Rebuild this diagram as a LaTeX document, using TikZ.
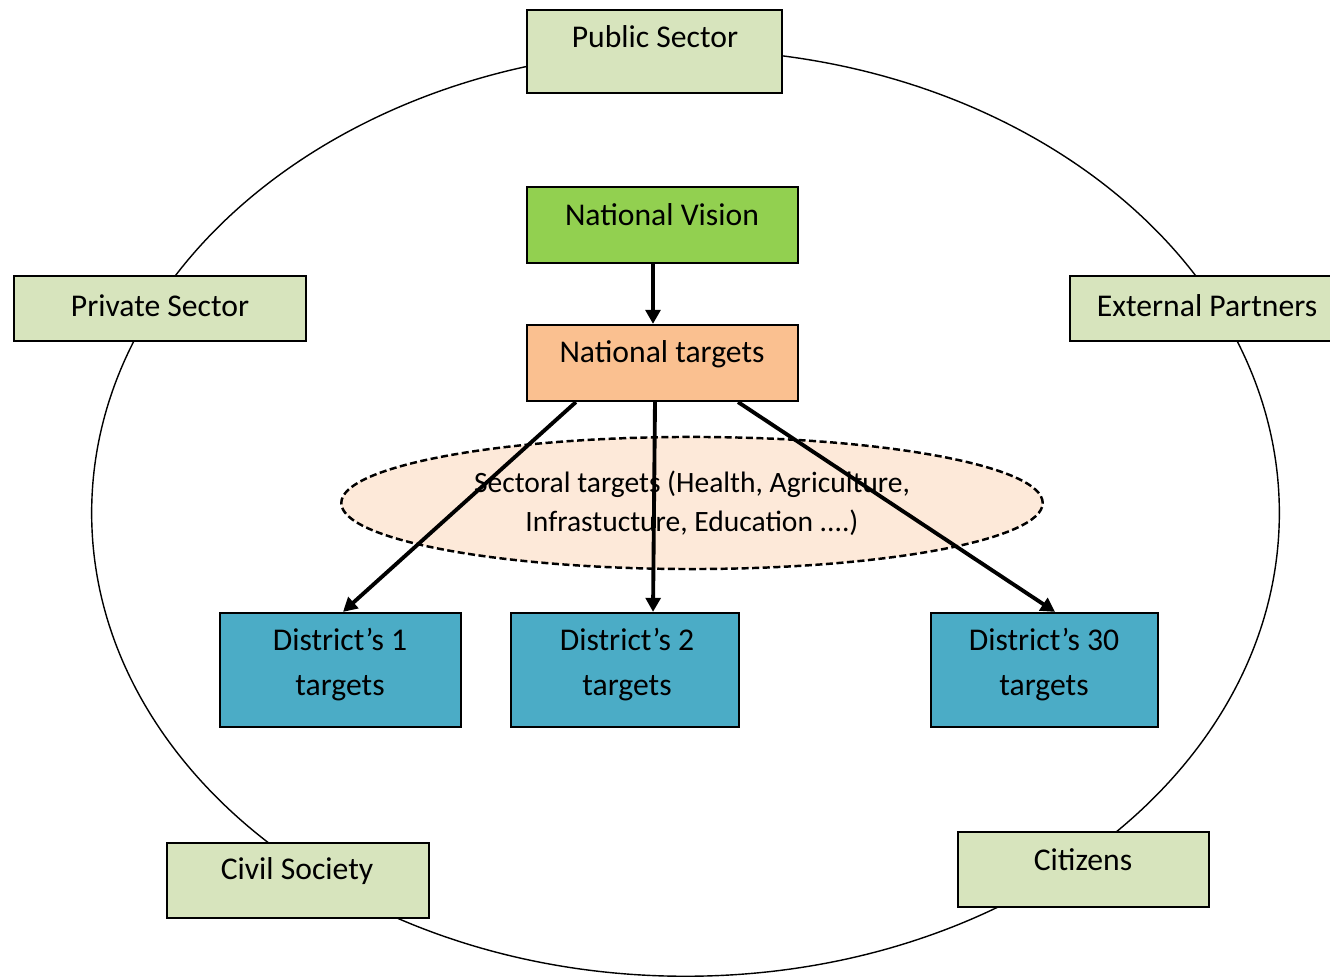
\documentclass[tikz,border=0pt]{standalone}
\usepackage{fontspec}
\setmainfont{Carlito}
\usetikzlibrary{positioning, arrows.meta, shapes.geometric}

\definecolor{sectorgreen}{HTML}{D7E4BD}
\definecolor{visiongreen}{HTML}{92D050}
\definecolor{targetorange}{HTML}{FAC090}
\definecolor{districtblue}{HTML}{4BACC6}
\definecolor{sectoralpeach}{HTML}{FDE9D9}

\begin{document}
\begin{tikzpicture}[x=0.01cm, y=-0.01cm,
		box/.style={draw, rectangle, line width=0.6pt, inner sep=0pt},
		txt/.style={font=\fontsize{9}{12.8}\selectfont, align=center, inner sep=0pt},
		arr/.style={line width=1.1pt, -{Triangle[length=4pt, width=4.2pt]}}]
				\useasboundingbox (0,0) rectangle (1330,977);
				% stakeholders ring
				\node[draw, ellipse, line width=0.4pt, inner sep=0pt, minimum width=11.87cm, minimum height=9.26cm] (ring) at (685.5,513) {};
				% outer boxes
				\node[box, fill=sectorgreen, minimum width=2.55cm, minimum height=0.83cm] (pub) at (654.5,51.5) {};
				\node[txt] (pubtxt) at (655,37) {Public Sector};
				\node[box, fill=sectorgreen, minimum width=2.92cm, minimum height=0.65cm] (priv) at (160,308.5) {};
				\node[txt] (privtxt) at (160,306) {Private Sector};
				\node[box, fill=sectorgreen, minimum width=2.65cm, minimum height=0.65cm] (ext) at (1202.5,308.5) {};
				\node[txt] (exttxt) at (1207,306) {External Partners};
				\node[box, fill=sectorgreen, minimum width=2.62cm, minimum height=0.75cm] (civ) at (298,880.5) {};
				\node[txt] (civtxt) at (297,871) {Civil Society};
				\node[box, fill=sectorgreen, minimum width=2.51cm, minimum height=0.75cm] (cit) at (1083.5,869.5) {};
				\node[txt] (cittxt) at (1083,860) {Citizens};
				% national level
				\node[box, fill=visiongreen, minimum width=2.71cm, minimum height=0.76cm] (vis) at (662.5,225) {};
				\node[txt] (vistxt) at (662,215) {National Vision};
				\node[box, fill=targetorange, minimum width=2.71cm, minimum height=0.76cm] (tgt) at (662.5,363) {};
				\node[txt] (tgttxt) at (662,354) {National targets};
				% sectoral targets
				\node[draw, ellipse, dash pattern=on 2pt off 1pt, line width=0.7pt, fill=sectoralpeach, inner sep=0pt, minimum width=7.01cm, minimum height=1.32cm] (sec) at (692,503) {};
				\node[txt, font=\fontsize{8.4}{11.1}\selectfont] (sectxt) at (692,503) {Sectoral targets (Health, Agriculture,\\Infrastucture, Education ....)};
				% districts
				\node[box, fill=districtblue, minimum width=2.41cm, minimum height=1.14cm] (d1) at (340.5,670) {};
				\node[txt] (d1txt) at (340,665) {District’s 1\\targets};
				\node[box, fill=districtblue, minimum width=2.28cm, minimum height=1.14cm] (d2) at (625,670) {};
				\node[txt] (d2txt) at (627,665) {District’s 2\\targets};
				\node[box, fill=districtblue, minimum width=2.27cm, minimum height=1.14cm] (d30) at (1044.5,670) {};
				\node[txt] (d30txt) at (1044,665) {District’s 30\\targets};
				% arrows
				\draw[arr] ([xshift=-0.095cm]vis.south) -- ([xshift=-0.095cm]tgt.north);
				\draw[arr] ([xshift=0.5cm]tgt.south west) -- ([xshift=0.025cm]d1.north);
				\draw[arr] ([xshift=-0.075cm]tgt.south) -- ([xshift=0.28cm]d2.north);
				\draw[arr] ([xshift=0.755cm]tgt.south) -- ([xshift=0.105cm]d30.north);
			\end{tikzpicture}
\end{document}
